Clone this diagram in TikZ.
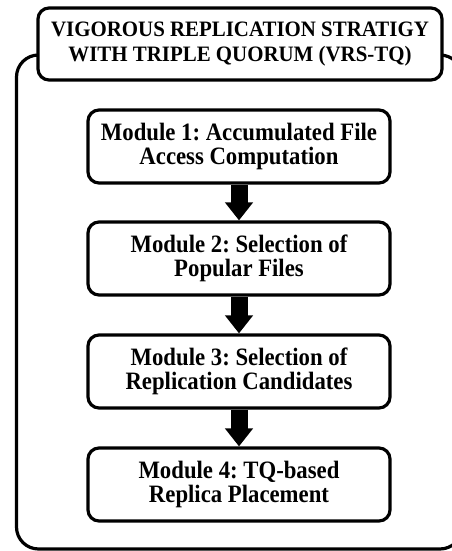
\documentclass[tikz,border=0pt]{standalone}
\usepackage{fontspec}
\setmainfont{Liberation Serif}
\newfontfamily\modfont{Liberation Serif}[FakeStretch=0.91]
\newfontfamily\headfont{Liberation Serif}[FakeStretch=0.95]
\usetikzlibrary{arrows.meta}
\begin{document}
\begin{tikzpicture}[x=1pt,y=-1pt,
  frame/.style={draw=black, line width=3.2pt, rounded corners=11pt, fill=white,
    inner sep=0pt, align=center},
  titlebox/.style={frame, minimum width=404pt, minimum height=72pt,
    font=\headfont\bfseries\frenchspacing\fontsize{22}{25.5}\selectfont},
  modbox/.style={frame, minimum width=302pt, minimum height=73pt,
    font=\modfont\bfseries\frenchspacing\fontsize{25}{23.5}\selectfont},
  flow/.style={draw=black, line width=17pt,
    -{Triangle[length=18pt,width=27pt]}}
]
\useasboundingbox (0,0) rectangle (452,551);
\clip (0,0) rectangle (452,551);

% enclosing frame (partly cut off at the right and bottom)
\draw[line width=3.2pt, rounded corners=22pt] (16.5,55) rectangle (462,549);

% heading
\node[titlebox] (title) at (240,44)
  {VIGOROUS REPLICATION STRATIGY\\WITH TRIPLE QUORUM (VRS-TQ)};

% modules
\node[modbox] (m1) at (239,146.5) {Module 1: Accumulated File\\Access Computation};
\node[modbox] (m2) at (239,258.5) {Module 2: Selection of\\Popular Files};
\node[modbox] (m3) at (239,371.5) {Module 3: Selection of\\Replication Candidates};
\node[modbox] (m4) at (239,484.5) {Module 4: TQ-based\\Replica Placement};

% flow arrows
\draw[flow] (m1.south) -- (m2.north);
\draw[flow] (m2.south) -- (m3.north);
\draw[flow] (m3.south) -- (m4.north);
\end{tikzpicture}
\end{document}
